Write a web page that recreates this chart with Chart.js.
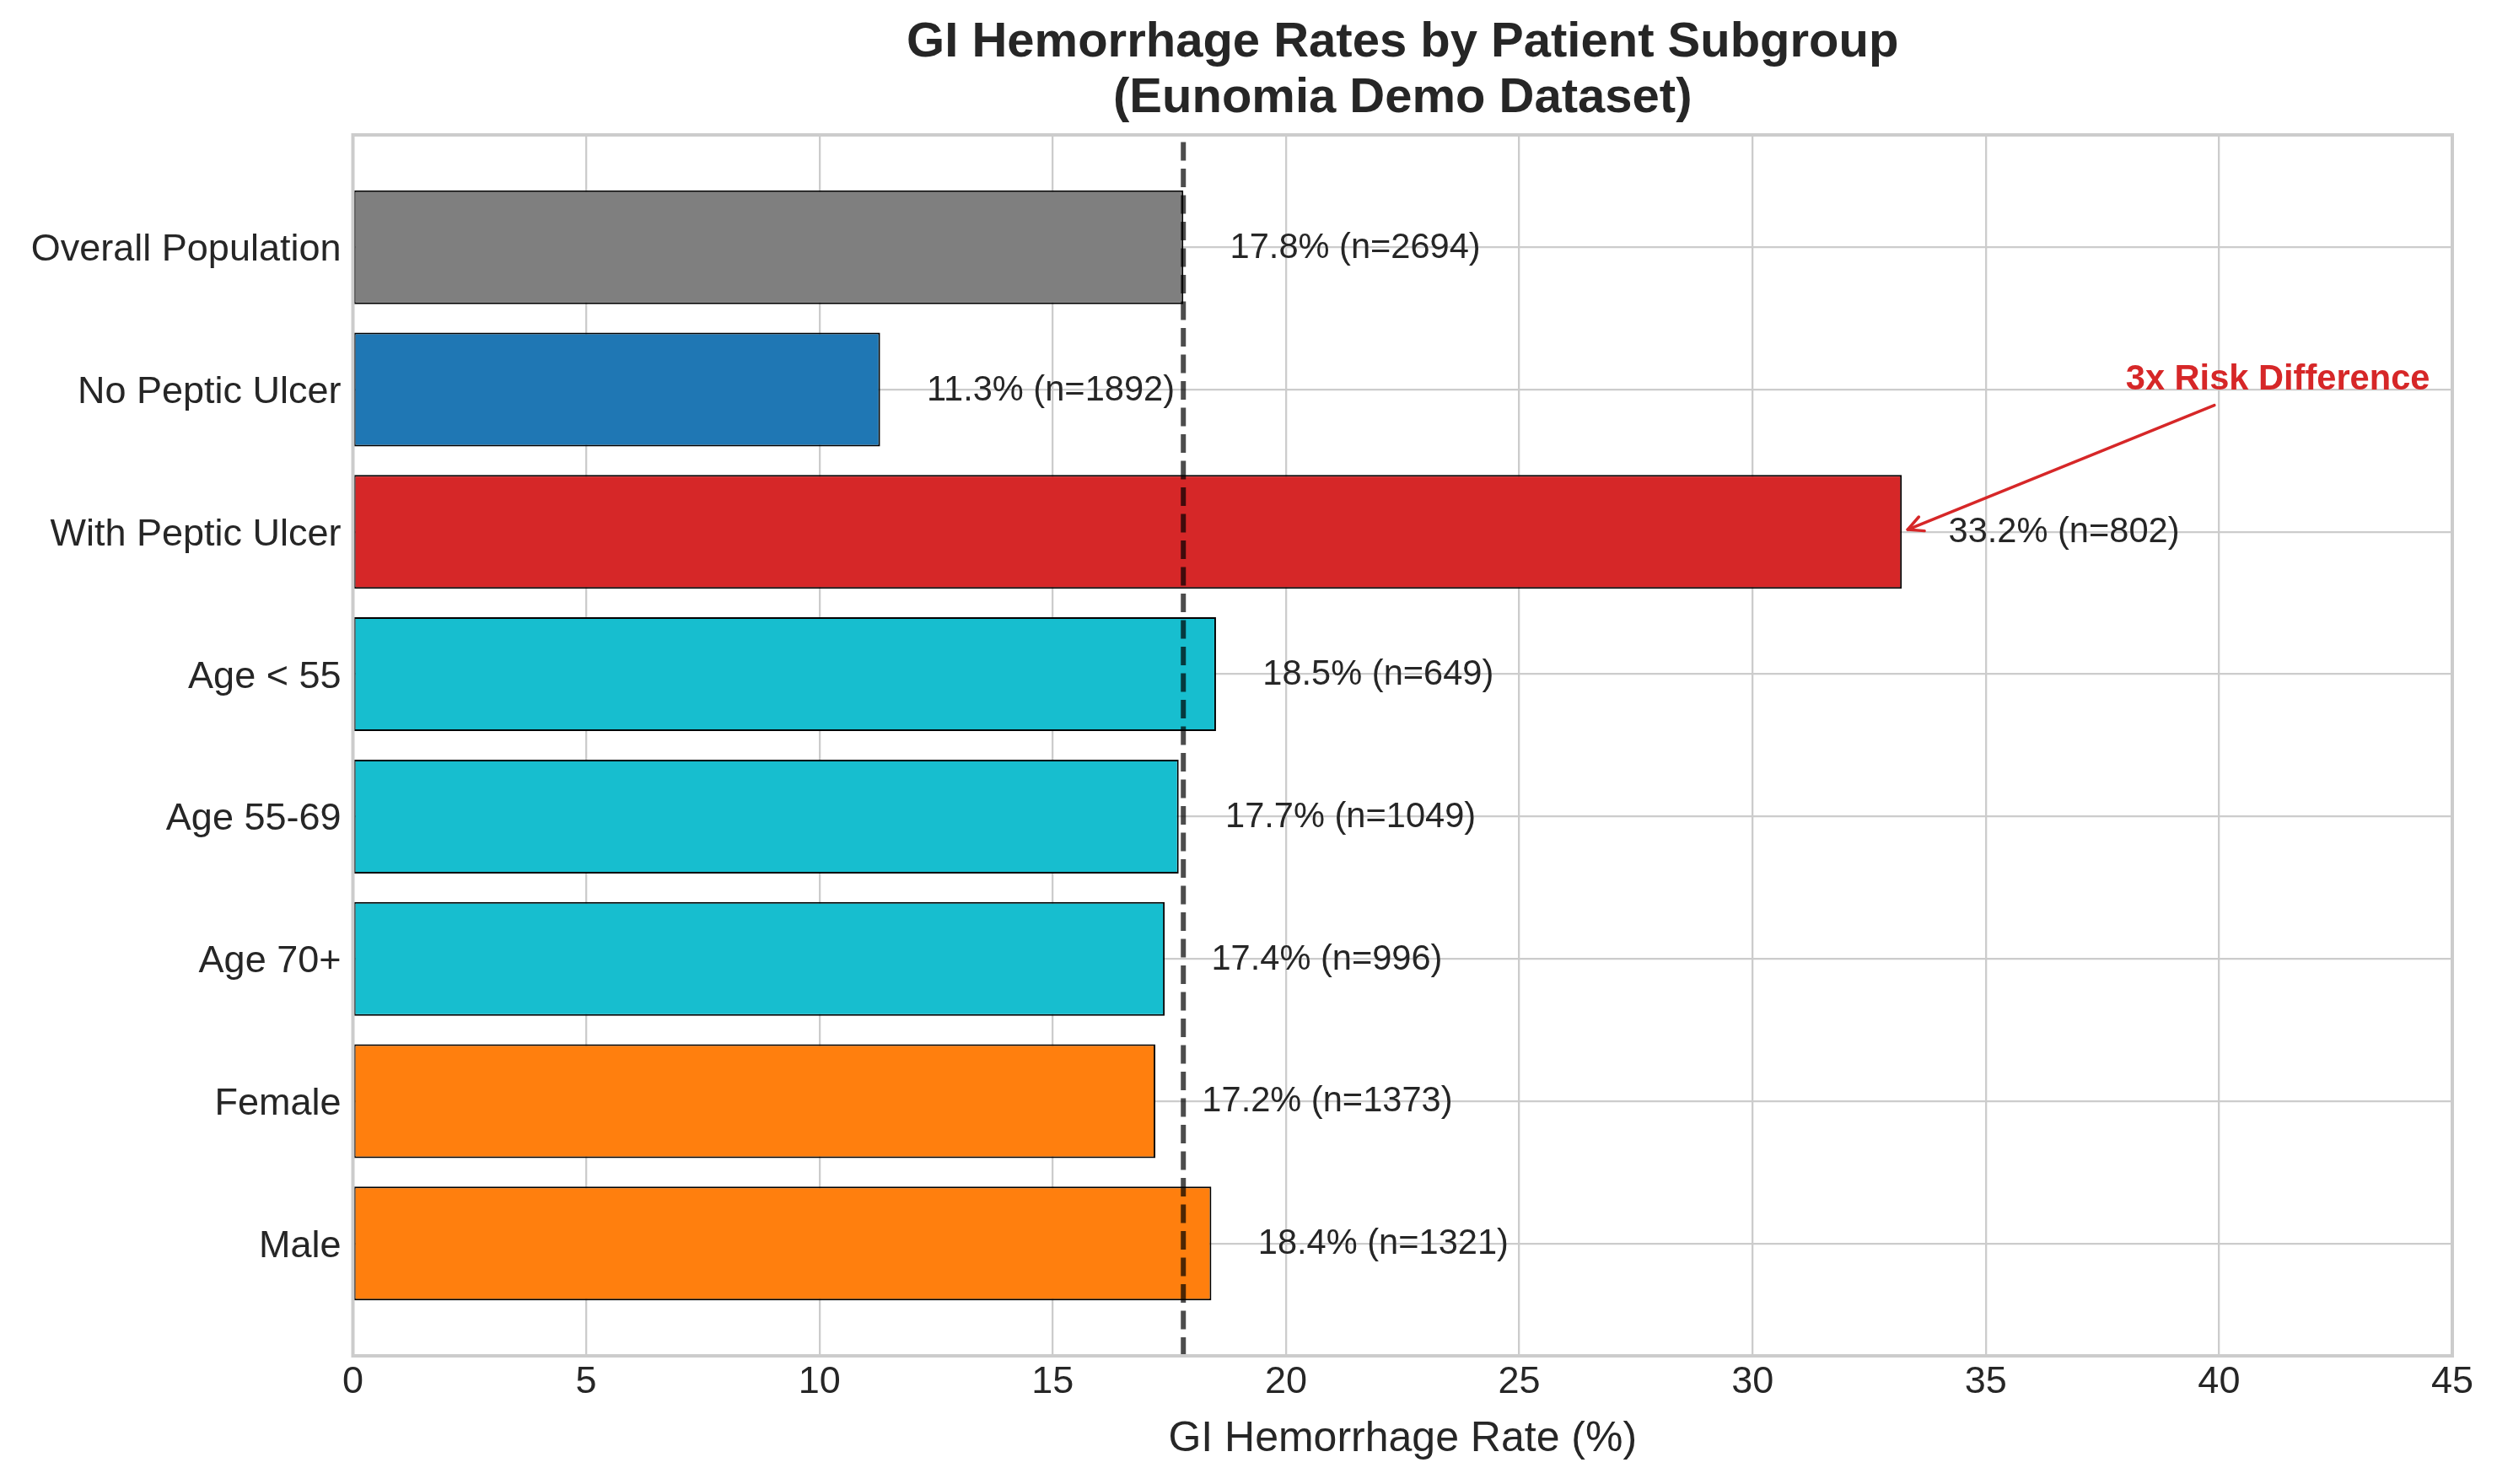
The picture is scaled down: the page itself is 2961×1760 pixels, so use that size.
<!DOCTYPE html>
<html>
<head>
<meta charset="utf-8">
<script src="https://cdn.jsdelivr.net/npm/chart.js@4.4.1/dist/chart.umd.min.js"></script>
<style>
html,body{margin:0;padding:0;background:#ffffff;overflow:hidden}
#wrap{width:2961px;height:1760px;position:relative}
canvas{display:block}
</style>
</head>
<body>
<div id="wrap"><canvas id="c" width="2961" height="1760" style="width:2961px;height:1760px"></canvas></div>
<script>
// ---------------- data ----------------
const categories = ['Overall Population', 'No Peptic Ulcer', 'With Peptic Ulcer', 'Age < 55', 'Age 55-69', 'Age 70+', 'Female', 'Male'];
const rates = [17.8, 11.3, 33.2, 18.5, 17.7, 17.4, 17.2, 18.4];
const counts = [2694, 1892, 802, 649, 1049, 996, 1373, 1321];
const barColors = ['#7f7f7f', '#1f77b4', '#d62728', '#17becf', '#17becf', '#17becf', '#ff7f0e', '#ff7f0e'];
const xTickValues = [0, 5, 10, 15, 20, 25, 30, 35, 40, 45];
const titleLines = ['GI Hemorrhage Rates by Patient Subgroup', '(Eunomia Demo Dataset)'];
const xAxisTitle = 'GI Hemorrhage Rate (%)';
const annotText = '3x Risk Difference';
const annotIdx = 2;            // bar being annotated
const annotTextPos = [38, 1];  // data coords (x, category index) of text baseline-left
const arrowFrom = [39.9, 1.11]; // data coords of arrow tail
const labelOffset = 1;         // value labels drawn at rate + 1

const FONT = "'Liberation Sans', Arial, Helvetica, sans-serif";
const TEXT = '#262626';
const GRID = '#cccccc';

const overlay = {
  id: 'overlay',
  afterDatasetsDraw(chart) {
    const {ctx, chartArea: ca, scales: {x, y}} = chart;
    // reference dashed line at overall rate
    ctx.save();
    ctx.strokeStyle = 'rgba(0,0,0,0.7)';
    ctx.lineWidth = 6;
    ctx.setLineDash([22, 9.5]);
    const xr = x.getPixelForValue(rates[0]);
    ctx.beginPath();
    ctx.moveTo(xr, ca.bottom);
    ctx.lineTo(xr, ca.top);
    ctx.stroke();
    ctx.restore();

    // frame (spines)
    ctx.save();
    ctx.strokeStyle = GRID;
    ctx.lineWidth = 4;
    ctx.strokeRect(ca.left, ca.top, ca.right - ca.left, ca.bottom - ca.top);
    ctx.restore();

    // value labels
    ctx.save();
    ctx.fillStyle = TEXT;
    ctx.font = `41.6px ${FONT}`;
    ctx.textAlign = 'left';
    ctx.textBaseline = 'middle';
    rates.forEach((r, i) => {
      ctx.fillText(`${r.toFixed(1)}% (n=${counts[i]})`, x.getPixelForValue(r + labelOffset), y.getPixelForValue(i) + 1);
    });
    ctx.restore();

    // annotation
    ctx.save();
    ctx.fillStyle = '#d62728';
    ctx.font = `bold 41.6px ${FONT}`;
    ctx.textAlign = 'left';
    ctx.textBaseline = 'alphabetic';
    ctx.fillText(annotText, x.getPixelForValue(annotTextPos[0]), y.getPixelForValue(annotTextPos[1]));
    const x0 = x.getPixelForValue(arrowFrom[0]), y0 = y.getPixelForValue(arrowFrom[1]);
    let x1 = x.getPixelForValue(rates[annotIdx]), y1 = y.getPixelForValue(annotIdx);
    const ang = Math.atan2(y0 - y1, x0 - x1);
    const shrink = 7.5;
    x1 += Math.cos(ang) * shrink; y1 += Math.sin(ang) * shrink;
    ctx.strokeStyle = '#d62728';
    ctx.lineWidth = 3.5;
    ctx.lineCap = 'round';
    ctx.lineJoin = 'round';
    ctx.beginPath();
    ctx.moveTo(x0, y0);
    ctx.lineTo(x1, y1);
    ctx.stroke();
    const hl = 20, ha = 26.6 * Math.PI / 180;
    ctx.beginPath();
    ctx.moveTo(x1 + Math.cos(ang + ha) * hl, y1 + Math.sin(ang + ha) * hl);
    ctx.lineTo(x1, y1);
    ctx.lineTo(x1 + Math.cos(ang - ha) * hl, y1 + Math.sin(ang - ha) * hl);
    ctx.stroke();
    ctx.restore();
  }
};

new Chart(document.getElementById('c'), {
  type: 'bar',
  data: {
    datasets: [{
      data: rates.map((r, i) => ({x: r, y: i})),
      backgroundColor: barColors,
      borderColor: '#000000',
      borderWidth: 2,
      borderSkipped: false,
      categoryPercentage: 1,
      barPercentage: 0.8
    }]
  },
  options: {
    indexAxis: 'y',
    responsive: false,
    devicePixelRatio: 1,
    animation: false,
    layout: {padding: {left: 0, right: 53, top: 0, bottom: 0}},
    plugins: {
      legend: {display: false},
      tooltip: {enabled: false},
      title: {
        display: true,
        text: titleLines,
        fullSize: false,
        color: TEXT,
        font: {family: FONT, size: 58, weight: 'bold', lineHeight: 66 / 58},
        padding: {top: 18, bottom: 10}
      }
    },
    scales: {
      x: {
        type: 'linear',
        position: 'bottom',
        min: 0,
        max: 45,
        offset: false,
        afterBuildTicks: s => { s.ticks = xTickValues.map(v => ({value: v})); },
        ticks: {color: TEXT, font: {family: FONT, size: 45}, padding: 5, maxRotation: 0},
        grid: {color: GRID, lineWidth: 2.3, drawTicks: false, offset: false},
        border: {display: false},
        title: {display: true, text: xAxisTitle, color: TEXT, font: {family: FONT, size: 50}, padding: {top: 0, bottom: 23}},
        afterFit: s => { s.height = 152; }
      },
      y: {
        type: 'linear',
        min: -0.79,
        max: 7.79,
        reverse: true,
        offset: false,
        afterBuildTicks: s => { s.ticks = categories.map((c, i) => ({value: i})); },
        ticks: {color: TEXT, font: {family: FONT, size: 45}, padding: 14, labelOffset: 3.5, callback: v => categories[v], autoSkip: false},
        grid: {color: GRID, lineWidth: 2.3, drawTicks: false, offset: false},
        border: {display: false},
        afterFit: s => { s.width = 418.5; }
      }
    }
  },
  plugins: [overlay]
});
</script>
</body>
</html>
